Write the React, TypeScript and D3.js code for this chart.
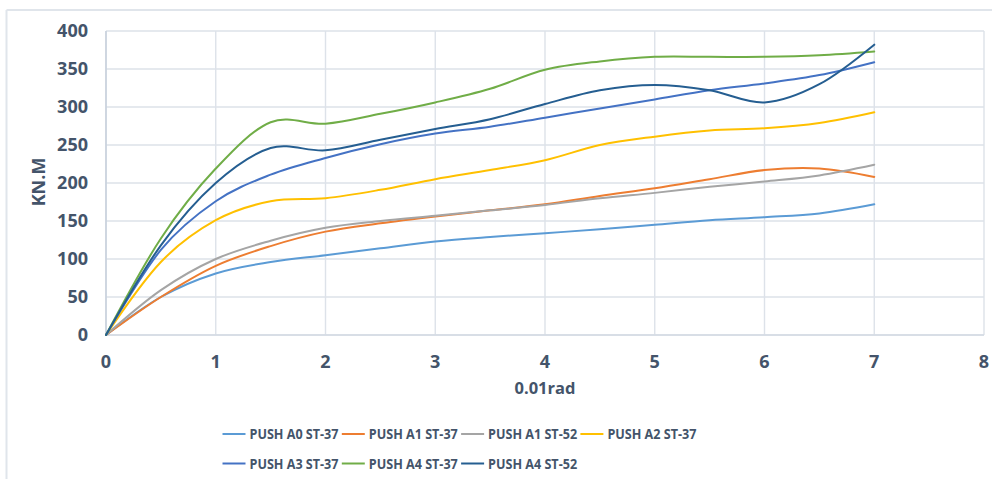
import React from "react";
import * as d3 from "d3";

const xValues = [0, 0.5, 1, 1.5, 2, 2.5, 3, 3.5, 4, 4.5, 5, 5.5, 6, 6.5, 7];
const pushA0St37 = [0, 50, 81, 96, 105, 114, 123, 129, 134, 139, 145, 151, 155, 160, 172];
const pushA1St37 = [0, 50, 91, 117, 136, 147, 156, 164, 172, 183, 193, 205, 217, 219, 208];
const pushA1St52 = [0, 59, 100, 124, 141, 150, 157, 164, 171, 180, 187, 195, 202, 210, 224];
const pushA2St37 = [0, 96, 151, 176, 180, 191, 205, 217, 230, 250, 261, 269, 272, 279, 293];
const pushA3St37 = [0, 112, 176, 211, 233, 251, 265, 274, 286, 298, 310, 322, 331, 342, 359];
const pushA4St37 = [0, 127, 219, 280, 278, 291, 306, 324, 349, 360, 366, 366, 366, 368, 373];
const pushA4St52 = [0, 118, 200, 246, 243, 257, 271, 284, 304, 322, 329, 322, 306, 330, 382];

const seriesNames = [
  "PUSH A0 ST-37",
  "PUSH A1 ST-37",
  "PUSH A1 ST-52",
  "PUSH A2 ST-37",
  "PUSH A3 ST-37",
  "PUSH A4 ST-37",
  "PUSH A4 ST-52",
];
const seriesValues = [pushA0St37, pushA1St37, pushA1St52, pushA2St37, pushA3St37, pushA4St37, pushA4St52];
const seriesColors = ["#5B9BD5", "#ED7D31", "#A5A5A5", "#FFC000", "#4472C4", "#70AD47", "#255E91"];

const xTicks = [0, 1, 2, 3, 4, 5, 6, 7, 8];
const yTicks = [0, 50, 100, 150, 200, 250, 300, 350, 400];
const xTitle = "0.01rad";
const yTitle = "KN.M";

const W = 992;
const H = 479;
const FONT = "'Open Sans', 'Liberation Sans', sans-serif";
const TXT = "#44546A";

export default function App() {
  const x = d3.scaleLinear().domain([0, 8]).range([106, 984]);
  const y = d3.scaleLinear().domain([0, 400]).range([335, 31]);
  const line = d3
    .line<[number, number]>()
    .x((d) => x(d[0]))
    .y((d) => y(d[1]))
    .curve(d3.curveCardinal.tension(0));

  const legendRows = [
    [0, 1, 2, 3],
    [4, 5, 6],
  ];
  const legendX0 = 222.5;
  const pitch = 119.3;
  const rowY = [434, 463.5];

  return (
    <svg
      width={W}
      height={H}
      style={{ position: "absolute", left: 0, top: 0, background: "#fff" }}
      fontFamily={FONT}
    >
      <rect x={0} y={0} width={W} height={H} fill="#fff" />
      {/* outer frame */}
      <line x1={6.5} y1={10} x2={6.5} y2={H} stroke="#e0e5eb" strokeWidth={2} />
      <line x1={6.5} y1={10} x2={W} y2={10} stroke="#e0e5eb" strokeWidth={2} />

      {/* grid */}
      {yTicks.map((t) => (
        <line key={"gy" + t} x1={x(0)} x2={x(8)} y1={y(t)} y2={y(t)} stroke="#dde2e9" strokeWidth={1.4} />
      ))}
      {xTicks.map((t) => (
        <line key={"gx" + t} x1={x(t)} x2={x(t)} y1={y(0)} y2={y(400)} stroke="#dde2e9" strokeWidth={1.4} />
      ))}
      <line x1={x(0)} x2={x(0)} y1={y(0)} y2={y(400)} stroke="#c5cedb" strokeWidth={1.4} />
      <line x1={x(0)} x2={x(8)} y1={y(0)} y2={y(0)} stroke="#d3dae3" strokeWidth={1.4} />

      {/* y tick labels */}
      {yTicks.map((t) => (
        <text
          key={"ty" + t}
          x={88}
          y={y(t)}
          dy="0.36em"
          textAnchor="end"
          fontSize={18}
          fontWeight={700}
          fill={TXT}
        >
          {t}
        </text>
      ))}
      {/* x tick labels */}
      {xTicks.map((t) => (
        <text
          key={"tx" + t}
          x={x(t)}
          y={362}
          dy="0.36em"
          textAnchor="middle"
          fontSize={18}
          fontWeight={700}
          fill={TXT}
        >
          {t}
        </text>
      ))}

      {/* axis titles */}
      <text x={545} y={388} dy="0.36em" textAnchor="middle" fontSize={16.5} fontWeight={700} fill={TXT}>
        {xTitle}
      </text>
      <text
        transform={`translate(38.5,182) rotate(-90)`}
        dy="0.36em"
        textAnchor="middle"
        fontSize={18}
        fontWeight={700}
        fill={TXT}
      >
        {yTitle}
      </text>

      {/* series */}
      {seriesValues.map((vals, i) => (
        <path
          key={"s" + i}
          d={line(xValues.map((xv, j) => [xv, vals[j]] as [number, number])) || ""}
          fill="none"
          stroke={seriesColors[i]}
          strokeWidth={2}
          strokeLinejoin="round"
          strokeLinecap="round"
        />
      ))}

      {/* legend */}
      {legendRows.map((row, r) =>
        row.map((si, k) => {
          const lx = legendX0 + k * pitch;
          const ly = rowY[r];
          return (
            <g key={"lg" + si}>
              <line x1={lx} x2={lx + 23} y1={ly} y2={ly} stroke={seriesColors[si]} strokeWidth={2} />
              <text
                x={lx + 27}
                y={ly}
                dy="0.36em"
                fontSize={15}
                fontWeight={700}
                fill={TXT}
                textLength={89}
                lengthAdjust="spacingAndGlyphs"
              >
                {seriesNames[si]}
              </text>
            </g>
          );
        })
      )}
    </svg>
  );
}
